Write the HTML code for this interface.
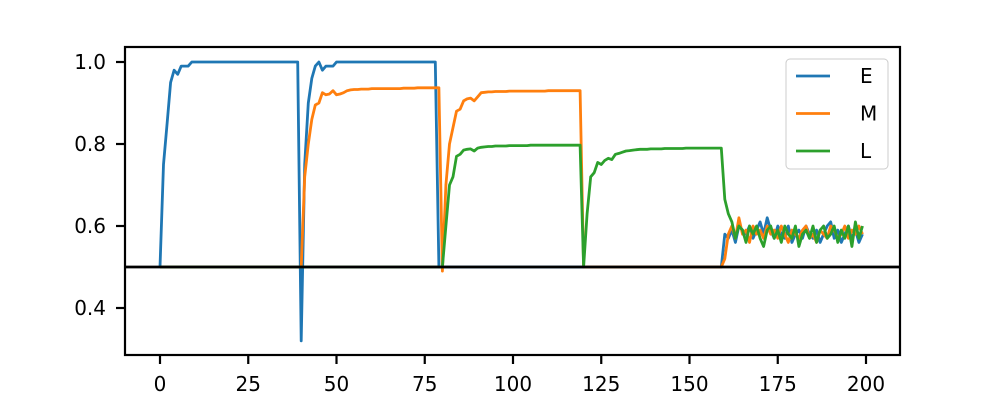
<!DOCTYPE html>
<html><head><meta charset="utf-8"><style>
body{margin:0;background:#fff}
svg{display:block;font-family:"DejaVu Sans","Liberation Sans",sans-serif}
</style></head><body>
<svg id="chart" width="1000" height="400" viewBox="0 0 1000 400"></svg>
<script>
const xTicks=[0,25,50,75,100,125,150,175,200];
const yTicks=[0.4,0.6,0.8,1.0];
const yTickLabels=["0.4","0.6","0.8","1.0"];
const seriesNames=["E","M","L"];
const seriesE=[
.5,.75,.85,.95,.98,.97,.99,.99,.99,1,
1,1,1,1,1,1,1,1,1,1,
1,1,1,1,1,1,1,1,1,1,
1,1,1,1,1,1,1,1,1,1,
.32,.75,.9,.96,.99,1,.98,.99,.99,.99,
1,1,1,1,1,1,1,1,1,1,
1,1,1,1,1,1,1,1,1,1,
1,1,1,1,1,1,1,1,1,.5,
.5,.5,.5,.5,.5,.5,.5,.5,.5,.5,
.5,.5,.5,.5,.5,.5,.5,.5,.5,.5,
.5,.5,.5,.5,.5,.5,.5,.5,.5,.5,
.5,.5,.5,.5,.5,.5,.5,.5,.5,.5,
.5,.5,.5,.5,.5,.5,.5,.5,.5,.5,
.5,.5,.5,.5,.5,.5,.5,.5,.5,.5,
.5,.5,.5,.5,.5,.5,.5,.5,.5,.5,
.5,.5,.5,.5,.5,.5,.5,.5,.5,.5,
.58,.57,.59,.56,.6,.59,.58,.6,.57,.59,
.61,.58,.62,.59,.57,.6,.58,.57,.6,.56,
.58,.59,.57,.6,.58,.57,.59,.56,.58,.6,
.61,.57,.59,.56,.58,.6,.57,.59,.56,.58];
const seriesM=[
.5,.5,.5,.5,.5,.5,.5,.5,.5,.5,
.5,.5,.5,.5,.5,.5,.5,.5,.5,.5,
.5,.5,.5,.5,.5,.5,.5,.5,.5,.5,
.5,.5,.5,.5,.5,.5,.5,.5,.5,.5,
.5,.72,.8,.86,.895,.9,.925,.92,.922,.93,
.92,.922,.925,.93,.932,.933,.933,.934,.934,.934,
.935,.935,.935,.935,.935,.935,.935,.935,.935,.936,
.936,.936,.936,.937,.937,.937,.937,.937,.937,.937,
.49,.7,.8,.84,.88,.885,.905,.91,.912,.905,
.915,.925,.926,.927,.927,.928,.928,.928,.928,.929,
.929,.929,.929,.929,.929,.929,.929,.929,.929,.929,
.93,.93,.93,.93,.93,.93,.93,.93,.93,.93,
.5,.5,.5,.5,.5,.5,.5,.5,.5,.5,
.5,.5,.5,.5,.5,.5,.5,.5,.5,.5,
.5,.5,.5,.5,.5,.5,.5,.5,.5,.5,
.5,.5,.5,.5,.5,.5,.5,.5,.5,.5,
.52,.58,.6,.57,.62,.58,.59,.56,.6,.58,
.59,.57,.6,.58,.59,.57,.6,.58,.56,.59,
.58,.57,.59,.6,.57,.58,.56,.59,.58,.57,
.6,.59,.57,.58,.6,.57,.59,.58,.6,.58];
const seriesL=[
.5,.5,.5,.5,.5,.5,.5,.5,.5,.5,
.5,.5,.5,.5,.5,.5,.5,.5,.5,.5,
.5,.5,.5,.5,.5,.5,.5,.5,.5,.5,
.5,.5,.5,.5,.5,.5,.5,.5,.5,.5,
.5,.5,.5,.5,.5,.5,.5,.5,.5,.5,
.5,.5,.5,.5,.5,.5,.5,.5,.5,.5,
.5,.5,.5,.5,.5,.5,.5,.5,.5,.5,
.5,.5,.5,.5,.5,.5,.5,.5,.5,.5,
.5,.6,.7,.72,.77,.775,.785,.787,.788,.783,
.79,.792,.793,.794,.794,.795,.795,.795,.795,.796,
.796,.796,.796,.796,.796,.797,.797,.797,.797,.797,
.797,.797,.797,.797,.797,.797,.797,.797,.797,.797,
.5,.63,.72,.73,.755,.75,.76,.765,.762,.775,
.777,.78,.783,.784,.785,.786,.787,.787,.787,.788,
.788,.788,.788,.789,.789,.789,.789,.789,.789,.79,
.79,.79,.79,.79,.79,.79,.79,.79,.79,.79,
.665,.63,.61,.57,.6,.59,.56,.6,.58,.6,
.57,.55,.59,.6,.57,.59,.56,.6,.58,.57,
.6,.55,.58,.59,.57,.6,.56,.59,.6,.57,
.58,.6,.56,.59,.57,.6,.55,.61,.57,.6];
const colors=["#1f77b4","#ff7f0e","#2ca02c"];
const refLine=0.5;

const NS="http://www.w3.org/2000/svg";
const svg=document.getElementById('chart');
const L=125,R=900,T=47,B=355;
const xs=v=>160+v*(866-160)/200;
const ys=v=>267-(v-0.5)*(267-62)/0.5;
function mk(tag,attrs,parent){const e=document.createElementNS(NS,tag);for(const k in attrs)e.setAttribute(k,attrs[k]);(parent||svg).appendChild(e);return e;}

[seriesE,seriesM,seriesL].forEach((s,i)=>{
  const p=mk('polyline',{points:s.map((v,j)=>xs(j).toFixed(1)+','+ys(v).toFixed(1)).join(' '),fill:'none',stroke:colors[i],'stroke-width':2.8,'stroke-linejoin':'round'});
  
  
});
const hl=mk('line',{x1:L,x2:R,y1:ys(refLine),y2:ys(refLine),stroke:'#000','stroke-width':2.8});



const frame=mk('rect',{x:L,y:T,width:R-L,height:B-T,fill:'none',stroke:'#000','stroke-width':2.2});



xTicks.forEach(t=>{
  const tk=mk('line',{x1:xs(t),x2:xs(t),y1:B,y2:B+9,stroke:'#000','stroke-width':2.2});
  
  
  const tx=mk('text',{x:xs(t),y:B+36,'text-anchor':'middle','font-size':20,fill:'#000'});
  tx.textContent=t;
  
  
});
yTicks.forEach((t,i)=>{
  const tk=mk('line',{x1:L-9,x2:L,y1:ys(t),y2:ys(t),stroke:'#000','stroke-width':2.2});
  
  
  const tx=mk('text',{x:L-19,y:ys(t)+7,'text-anchor':'end','font-size':20,fill:'#000'});
  tx.textContent=yTickLabels[i];
  
  
});

const lg=mk('g',{});


mk('rect',{x:786,y:59,width:102,height:110,rx:4,fill:'#fff',stroke:'#ccc','stroke-width':1},lg);
seriesNames.forEach((n,i)=>{
  const y=76+i*37.5;
  const g=mk('g',{},lg);
  
  
  mk('line',{x1:796,x2:830,y1:y,y2:y,stroke:colors[i],'stroke-width':2.8},g);
  const tx=mk('text',{x:860,y:y+7,'font-size':20,fill:'#000'},g);
  tx.textContent=n;
});
</script>
</body></html>
